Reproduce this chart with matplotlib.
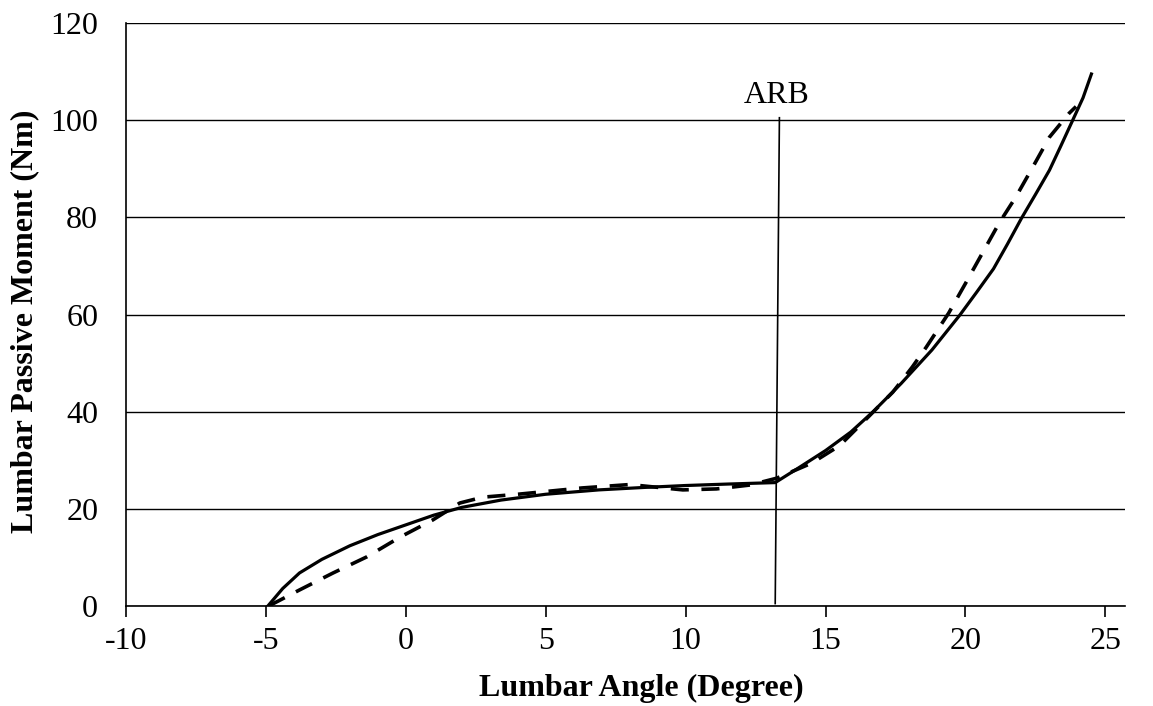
import matplotlib
matplotlib.use("Agg")
import matplotlib.pyplot as plt

plt.rcParams['font.family'] = ['Liberation Serif', 'DejaVu Serif']
plt.rcParams['axes.unicode_minus'] = False

# model curve (solid)
model_x = [-4.93, -4.4, -3.8, -3.0, -2.0, -1.0, 0.0, 1.0, 2.0, 3.4, 5.0, 6.9,
           8.5, 10.0, 11.5, 13.2, 14.0, 15.0, 15.9, 16.7, 17.7, 18.8, 19.8,
           20.4, 21.0, 21.5, 22.0, 22.5, 23.0, 23.4, 23.8, 24.2, 24.5]
model_y = [0.0, 3.6, 6.8, 9.6, 12.4, 14.7, 16.7, 18.7, 20.3, 21.8, 23.0, 23.9,
           24.4, 24.8, 25.1, 25.4, 28.3, 32.0, 35.8, 40.0, 45.8, 52.7, 59.9,
           64.6, 69.4, 74.5, 79.8, 84.7, 89.7, 94.6, 99.6, 104.6, 109.5]

# measured curve (dashed)
meas_x = [-4.9, -3.8, -2.6, -1.4, -0.2, 0.96, 1.93, 2.75, 4.0, 6.3, 8.0, 9.9,
          11.1, 12.3, 13.25, 14.5, 15.5, 16.3, 17.4, 18.1, 18.6, 19.4, 20.0,
          20.6, 21.2, 21.8, 22.4, 23.0, 23.7, 23.95]
meas_y = [0.0, 3.3, 6.8, 10.1, 14.2, 17.7, 21.2, 22.4, 23.0, 24.3, 25.0, 23.9,
          24.1, 24.9, 26.3, 29.4, 33.0, 37.6, 44.0, 49.2, 53.3, 60.3, 66.4,
          72.6, 78.8, 84.2, 90.3, 96.5, 101.4, 102.8]

# ARB marker line
arb_x = [13.2, 13.35]
arb_y = [0.5, 100.5]
arb_label = 'ARB'

W, H = 1153, 706
fig = plt.figure(figsize=(W / 100, H / 100), dpi=100)
ax = fig.add_axes([126 / W, 1 - 606 / H, (1125 - 126) / W, (606 - 23) / H])

ax.plot(meas_x, meas_y, color='black', lw=2.6, dashes=(5, 3.5), zorder=3)
ax.plot(model_x, model_y, color='black', lw=2.3, zorder=4)
ax.plot(arb_x, arb_y, color='black', lw=1.2, zorder=2)
ax.text(arb_x[1] - 0.1, 105, arb_label, ha='center', va='center', fontsize=23)

ax.set_xlim(-10, 25.7)
ax.set_ylim(0, 120)
ax.set_xticks(range(-10, 30, 5))
ax.set_yticks(range(0, 140, 20))
ax.yaxis.grid(True, color='black', lw=1)
ax.set_axisbelow(True)
ax.spines['top'].set_visible(False)
ax.spines['right'].set_visible(False)
ax.spines['left'].set_linewidth(1.2)
ax.spines['bottom'].set_linewidth(1.2)
ax.tick_params(axis='x', direction='out', length=8, width=1.2, labelsize=23, pad=7)
ax.tick_params(axis='y', length=0, labelsize=23, pad=20)

# axis titles placed where the reference has them
fig.text(641 / W, 1 - 688 / H, 'Lumbar Angle (Degree)', ha='center', va='center',
         fontsize=23, fontweight='bold')
fig.text(25 / W, 1 - 321 / H, 'Lumbar Passive Moment (Nm)', ha='center', va='center',
         rotation=90, fontsize=23, fontweight='bold')

fig.savefig('out.png', dpi=100)
